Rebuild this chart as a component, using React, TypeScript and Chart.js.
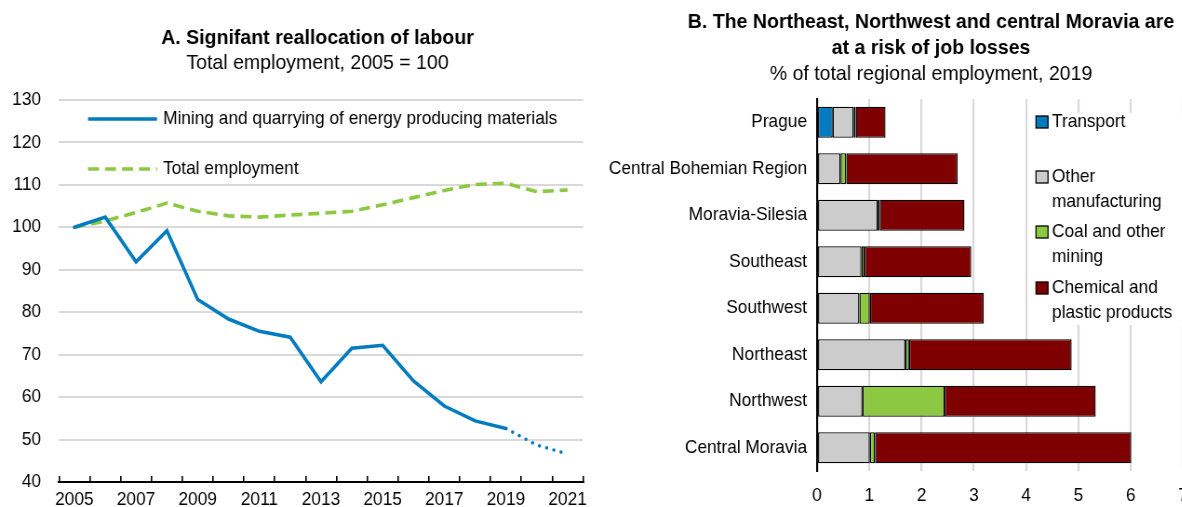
import React, { useEffect, useRef } from 'react';
import { Chart, registerables } from 'chart.js';

Chart.register(...registerables);

const FONT = "'Liberation Sans', Arial, sans-serif";
// the reference typeface is slightly condensed: draw at a taller size and squeeze horizontally
const SQUEEZE = 0.93;
const TICK_SIZE = 18.6;
const TITLE_SIZE = 21;

// Panel A data
const years = ['2005', '2006', '2007', '2008', '2009', '2010', '2011', '2012', '2013', '2014', '2015', '2016', '2017', '2018', '2019', '2020', '2021'];
const miningEnergy = [100, 102.4, 91.9, 99.2, 83.0, 78.4, 75.5, 74.1, 63.6, 71.5, 72.2, 63.8, 57.9, 54.4, 52.6, 48.7, 46.6];
const totalEmployment = [100, 101.5, 103.5, 105.7, 103.8, 102.7, 102.4, 102.9, 103.3, 103.8, 105.3, 107.0, 108.7, 110.1, 110.4, 108.4, 108.8];
const projectionFromIndex = 14; // after 2019 the mining line is a projection (dotted)
const yTicksA = { min: 40, max: 130, step: 10 };

// Panel B data
const regions = ['Prague', 'Central Bohemian Region', 'Moravia-Silesia', 'Southeast', 'Southwest', 'Northeast', 'Northwest', 'Central Moravia'];
const transport = [0.30, null, null, null, null, null, null, null];
const otherManufacturing = [0.40, 0.45, 1.16, 0.85, 0.81, 1.69, 0.87, 1.01];
const coalMining = [0.04, 0.11, 0.04, 0.06, 0.20, 0.07, 1.57, 0.10];
const chemicalPlastic = [0.57, 2.13, 1.62, 2.04, 2.18, 3.11, 2.89, 4.90];
const xTicksB = { min: 0, max: 7, step: 1 };

const BLUE = '#037bc1';
const GREEN = '#8cc841';
const GREY = '#cccccc';
const DARKRED = '#7f0000';
const GRID = '#d9d9d9';

const noPad = (s: any) => {
  s.paddingLeft = 0;
  s.paddingRight = 0;
  s.paddingTop = 0;
  s.paddingBottom = 0;
};

const LEFT_CSS_W = 590;
const LEFT_W = Math.round(LEFT_CSS_W / SQUEEZE);
const SXL = LEFT_CSS_W / LEFT_W;
const RIGHT_CSS_LEFT = 590;
const RIGHT_CSS_W = 602;
const RIGHT_W = Math.round(RIGHT_CSS_W / SQUEEZE);
const SXR = RIGHT_CSS_W / RIGHT_W;
const H = 507;

function LeftChart() {
  const ref = useRef<HTMLCanvasElement>(null);
  useEffect(() => {
    const canvas = ref.current!;
    const X = (x: number) => x / SXL;
    const titlePlugin = {
      id: 'titlesA',
      afterDraw(chart: any) {
        const c = chart.ctx;
        c.save();
        c.fillStyle = '#000';
        c.textAlign = 'center';
        c.textBaseline = 'middle';
        c.font = `bold ${TITLE_SIZE}px ${FONT}`;
        c.fillText('A. Signifant reallocation of labour', X(317.5), 38);
        c.font = `${TITLE_SIZE}px ${FONT}`;
        c.fillText('Total employment, 2005 = 100', X(317.5), 63);
        // legend
        c.lineWidth = 3.5;
        c.strokeStyle = BLUE;
        c.setLineDash([]);
        c.beginPath();
        c.moveTo(X(88), 119);
        c.lineTo(X(157), 119);
        c.stroke();
        c.strokeStyle = GREEN;
        c.setLineDash([X(11), X(6)]);
        c.beginPath();
        c.moveTo(X(88), 169);
        c.lineTo(X(157), 169);
        c.stroke();
        c.setLineDash([]);
        c.textAlign = 'left';
        c.font = `${TICK_SIZE}px ${FONT}`;
        c.fillText('Mining and quarrying of energy producing materials', X(163), 119);
        c.fillText('Total employment', X(163), 169);
        c.restore();
      },
    };
    const chart = new Chart(canvas, {
      type: 'line',
      data: {
        labels: years,
        datasets: [
          {
            label: 'Mining and quarrying of energy producing materials',
            data: miningEnergy,
            borderColor: BLUE,
            borderWidth: 3.6,
            pointRadius: 0,
            borderCapStyle: 'round',
            tension: 0,
            segment: {
              borderDash: (ctx: any) => (ctx.p0DataIndex >= projectionFromIndex ? [0, 8] : undefined),
            },
          },
          {
            label: 'Total employment',
            data: totalEmployment,
            borderColor: GREEN,
            borderWidth: 3.6,
            borderDash: [X(11), X(6)],
            pointRadius: 0,
            tension: 0,
          },
        ],
      },
      options: {
        responsive: false,
        animation: false,
        devicePixelRatio: 1,
        layout: { padding: { left: 0, right: X(7), top: 100, bottom: 0 } },
        plugins: { legend: { display: false }, tooltip: { enabled: false }, title: { display: false } },
        scales: {
          x: {
            type: 'category',
            offset: true,
            grid: { display: true, offset: true, drawOnChartArea: false, drawTicks: true, tickLength: -6, color: '#000', lineWidth: 1.6 },
            border: { display: true, color: '#000', width: 2 },
            ticks: {
              autoSkip: false,
              maxRotation: 0,
              minRotation: 0,
              padding: 15,
              color: '#000',
              font: { size: TICK_SIZE, family: FONT, lineHeight: 1 },
              callback: (_v: any, i: number) => (i % 2 === 0 ? years[i] : ''),
            },
            afterFit: (s: any) => { s.height = 25; noPad(s); },
          },
          y: {
            min: yTicksA.min,
            max: yTicksA.max,
            ticks: { stepSize: yTicksA.step, padding: X(18), color: '#000', font: { size: TICK_SIZE, family: FONT, lineHeight: 1 } },
            grid: { color: GRID, lineWidth: 2, drawTicks: false },
            border: { display: false },
            afterFit: (s: any) => { s.width = X(59); noPad(s); },
          },
        },
      },
      plugins: [titlePlugin],
    } as any);
    return () => chart.destroy();
  }, []);
  return <canvas ref={ref} width={LEFT_W} height={H} style={{ position: 'absolute', left: 0, top: 0, width: LEFT_CSS_W, height: H }} />;
}

function RightChart() {
  const ref = useRef<HTMLCanvasElement>(null);
  useEffect(() => {
    const canvas = ref.current!;
    const X = (x: number) => (x - RIGHT_CSS_LEFT) / SXR;
    const D = (d: number) => d / SXR;
    const legendItems = [
      { color: BLUE, lines: ['Transport'], y: 122 },
      { color: GREY, lines: ['Other', 'manufacturing'], y: 177 },
      { color: GREEN, lines: ['Coal and other', 'mining'], y: 232 },
      { color: DARKRED, lines: ['Chemical and', 'plastic products'], y: 288 },
    ];
    const plugin = {
      id: 'titlesB',
      afterDraw(chart: any) {
        const c = chart.ctx;
        c.save();
        c.fillStyle = '#000';
        c.textAlign = 'center';
        c.textBaseline = 'middle';
        c.font = `bold ${TITLE_SIZE}px ${FONT}`;
        c.fillText('B. The Northeast, Northwest and central Moravia are', X(931), 22);
        c.fillText('at a risk of job losses', X(931), 48);
        c.font = `${TITLE_SIZE}px ${FONT}`;
        c.fillText('% of total regional employment, 2019', X(931), 74);
        // legend with white background
        c.fillStyle = '#fff';
        c.fillRect(X(1030), 113, D(165), 212);
        c.textAlign = 'left';
        c.font = `${TICK_SIZE}px ${FONT}`;
        for (const it of legendItems) {
          c.fillStyle = it.color;
          c.fillRect(X(1036), it.y - 6, D(12), 12);
          c.strokeStyle = '#000';
          c.lineWidth = 1.3;
          c.strokeRect(X(1036), it.y - 6, D(12), 12);
          c.fillStyle = '#000';
          it.lines.forEach((t, k) => c.fillText(t, X(1052), it.y + k * 25));
        }
        c.restore();
      },
    };
    const ds = (label: string, data: (number | null)[], color: string) => ({
      label,
      data,
      backgroundColor: color,
      borderColor: '#000',
      borderWidth: 1.4,
      borderSkipped: false,
      barPercentage: 0.67,
      categoryPercentage: 1,
    });
    const chart = new Chart(canvas, {
      type: 'bar',
      data: {
        labels: regions,
        datasets: [
          ds('Transport', transport, BLUE),
          ds('Other manufacturing', otherManufacturing, GREY),
          ds('Coal and other mining', coalMining, GREEN),
          ds('Chemical and plastic products', chemicalPlastic, DARKRED),
        ],
      },
      options: {
        indexAxis: 'y',
        responsive: false,
        animation: false,
        devicePixelRatio: 1,
        layout: { padding: { left: 0, right: D(9), top: 99, bottom: 0 } },
        plugins: { legend: { display: false }, tooltip: { enabled: false }, title: { display: false } },
        scales: {
          x: {
            stacked: true,
            min: xTicksB.min,
            max: xTicksB.max,
            ticks: { stepSize: xTicksB.step, padding: 15.5, color: '#000', font: { size: TICK_SIZE, family: FONT, lineHeight: 1 } },
            grid: { color: GRID, lineWidth: D(2), drawTicks: false },
            border: { display: false },
            afterFit: (s: any) => { s.height = 36; noPad(s); },
          },
          y: {
            stacked: true,
            ticks: { padding: D(10), color: '#000', font: { size: TICK_SIZE, family: FONT, lineHeight: 1 } },
            grid: { display: false, drawTicks: false },
            border: { display: true, color: '#000', width: D(2) },
            afterFit: (s: any) => { s.width = D(227); noPad(s); },
          },
        },
      },
      plugins: [plugin],
    } as any);
    return () => chart.destroy();
  }, []);
  return <canvas ref={ref} width={RIGHT_W} height={H} style={{ position: 'absolute', left: RIGHT_CSS_LEFT, top: 0, width: RIGHT_CSS_W, height: H }} />;
}

export default function App() {
  return (
    <div style={{ position: 'fixed', left: 0, top: 0, width: 1182, height: 507, overflow: 'hidden', background: '#fff' }}>
      <LeftChart />
      <RightChart />
    </div>
  );
}
